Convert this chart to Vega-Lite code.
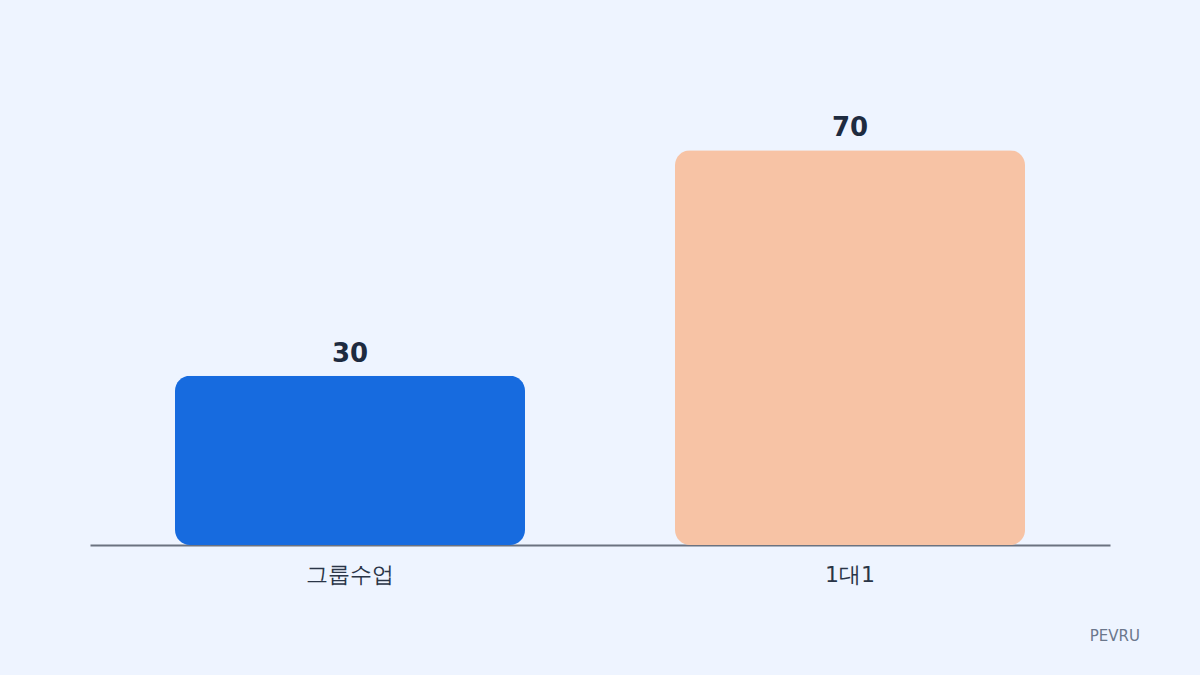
{
  "$schema": "https://vega.github.io/schema/vega-lite/v6.json",
  "width": 1020,
  "height": 454,
  "autosize": {"type": "none"},
  "padding": {"left": 90, "top": 91, "right": 90, "bottom": 130},
  "background": "#EEF4FF",
  "config": {"view": {"stroke": null}, "font": "DejaVu Sans"},
  "title": {
    "text": "PEVRU",
    "orient": "bottom",
    "anchor": "end",
    "fontSize": 15,
    "fontWeight": "normal",
    "color": "#6B778C",
    "offset": 44,
    "dx": 30
  },
  "data": {
    "values": [
      {"category": "그룹수업", "value": 30},
      {"category": "1대1", "value": 70}
    ]
  },
  "encoding": {
    "x": {
      "field": "category",
      "type": "nominal",
      "sort": null,
      "scale": {"paddingInner": 0, "paddingOuter": 0.02},
      "axis": {
        "title": null,
        "labelAngle": 0,
        "labelFontSize": 22,
        "labelColor": "#2A3547",
        "labelPadding": 19,
        "ticks": false,
        "domainColor": "#6B7280",
        "domainWidth": 2
      }
    },
    "y": {
      "field": "value",
      "type": "quantitative",
      "scale": {"domain": [0, 80.5]},
      "axis": null
    }
  },
  "layer": [
    {
      "mark": {"type": "bar", "size": 350, "cornerRadius": 15},
      "encoding": {
        "color": {
          "field": "category",
          "type": "nominal",
          "sort": null,
          "scale": {"range": ["#176BDF", "#F7C3A5"]},
          "legend": null
        }
      }
    },
    {
      "mark": {
        "type": "text",
        "dy": -22,
        "fontSize": 26,
        "fontWeight": "bold",
        "color": "#1E2B40"
      },
      "encoding": {"text": {"field": "value", "type": "quantitative"}}
    }
  ]
}
